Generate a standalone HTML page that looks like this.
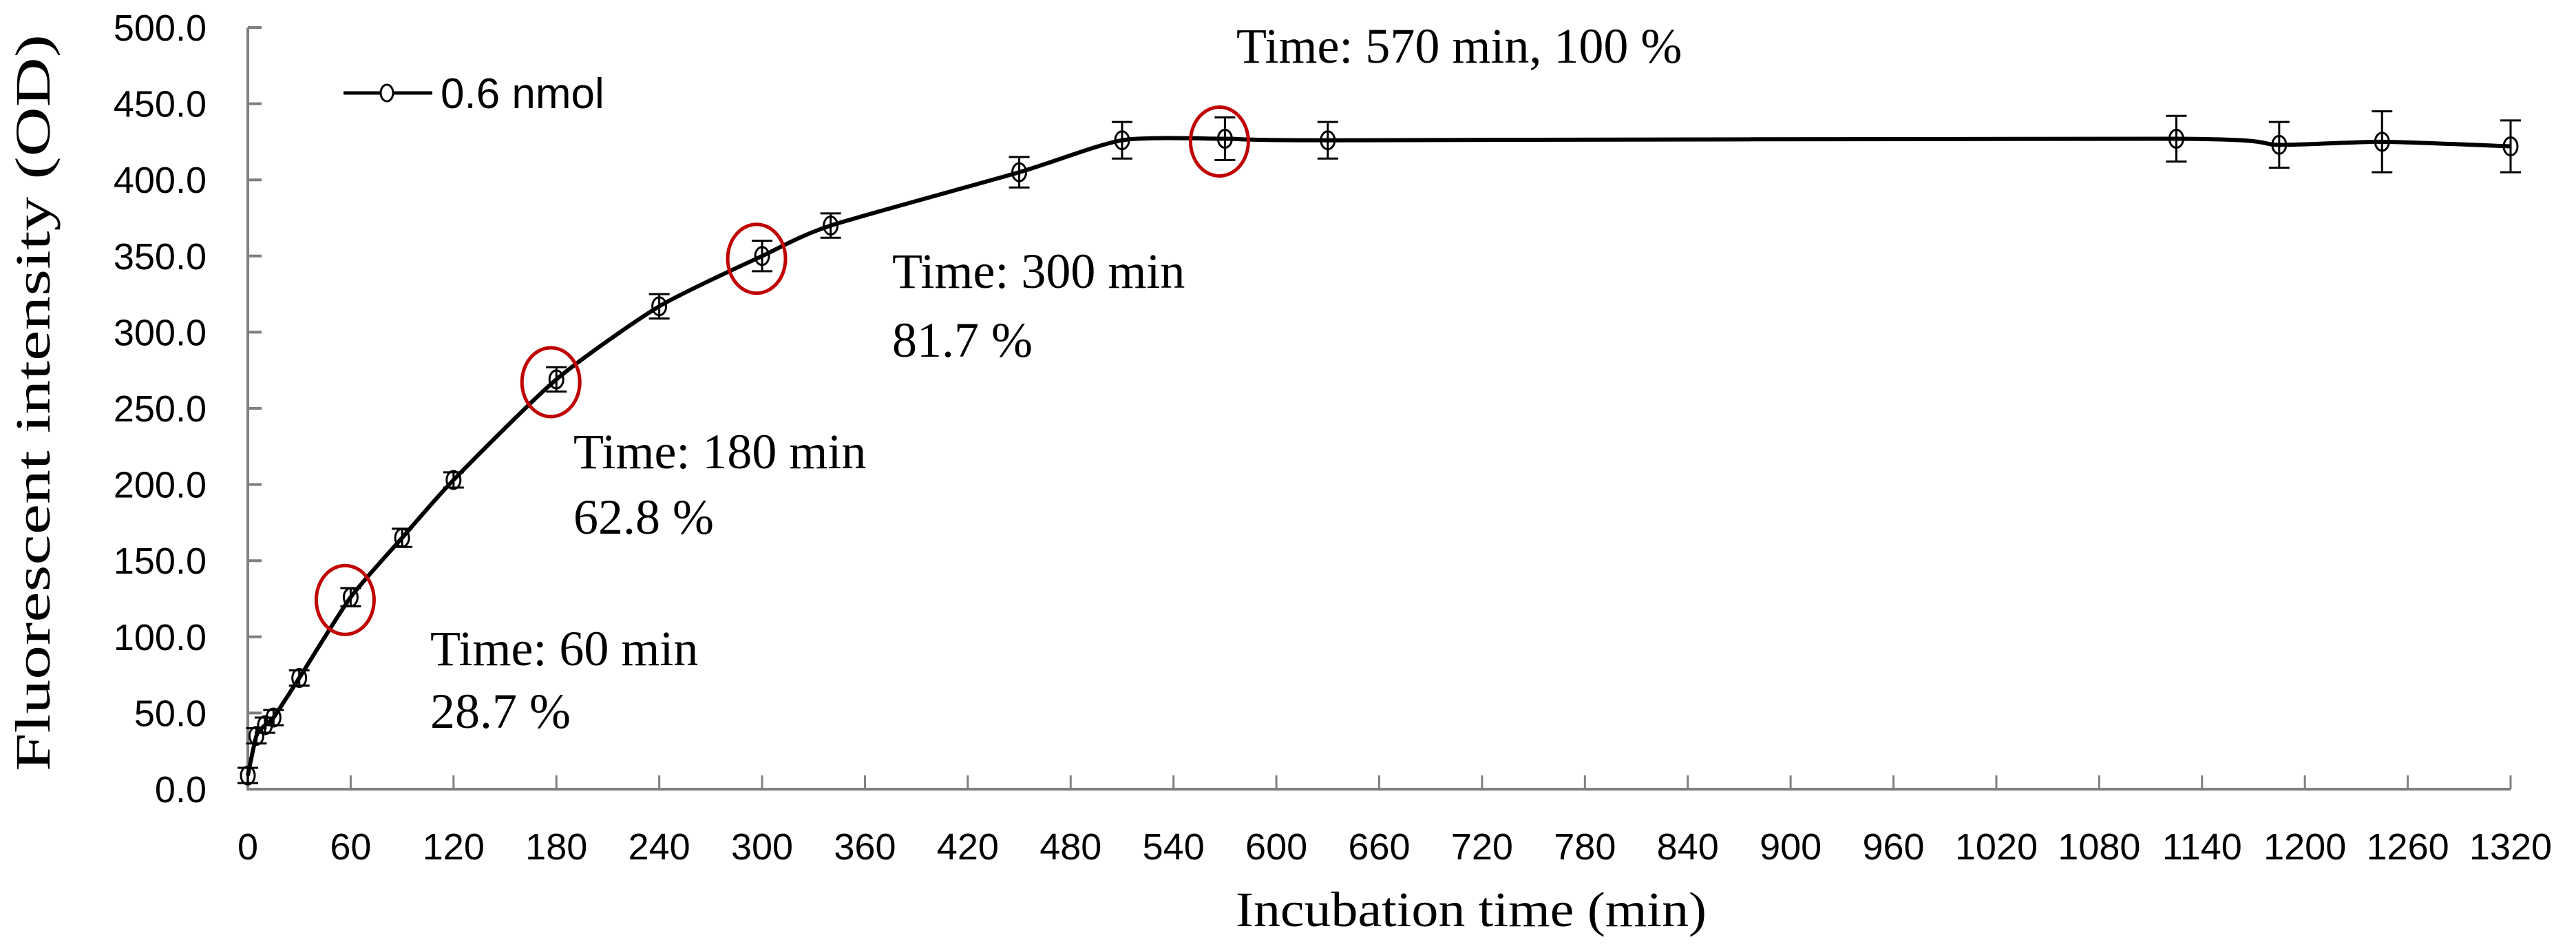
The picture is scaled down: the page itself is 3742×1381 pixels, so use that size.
<!DOCTYPE html>
<html><head><meta charset="utf-8"><style>
html,body{margin:0;padding:0;background:#fff;}
svg{display:block;}
.tick{font-family:"Liberation Sans",sans-serif;font-size:54px;fill:#000;}
.ann{font-family:"Liberation Serif",serif;font-size:72px;fill:#000;}
</style></head><body>
<svg id="chart" width="3742" height="1381" viewBox="0 0 3742 1381" xmlns="http://www.w3.org/2000/svg">
<g id="axes"></g>
<g id="series"></g>
<g id="annots"></g>
<text class="ann" transform="translate(72,585) rotate(-90)" text-anchor="middle" textLength="1070" lengthAdjust="spacingAndGlyphs">Fluorescent intensity (OD)</text>
<text class="ann" x="2137" y="1345" text-anchor="middle" textLength="684" lengthAdjust="spacingAndGlyphs">Incubation time (min)</text>
<g>
<line x1="499" y1="135" x2="628" y2="135" stroke="#000" stroke-width="5"/>
<ellipse cx="562" cy="135" rx="9" ry="12" fill="#fff" stroke="#000" stroke-width="3"/>
<text x="640" y="157" font-family="Liberation Sans, sans-serif" font-size="62">0.6 nmol</text>
</g>
</svg>
<script>
const times = [0,5,10,15,30,60,90,120,180,240,300,340,450,510,570,630,1125,1185,1245,1320];
const values = [9,35,42,47,73,126,165,203,269,317,350,370,405,426,427,426,427,423,425,422];
const errors = [5,5,5,5,5,6,6,5,8,8,10,8,10,12,14,12,15,15,20,17];
const xTicks = [0,60,120,180,240,300,360,420,480,540,600,660,720,780,840,900,960,1020,1080,1140,1200,1260,1320];
const yTicks = [0,50,100,150,200,250,300,350,400,450,500];
const highlights = [60,180,300,570];
const NS="http://www.w3.org/2000/svg";
const X0=360, X1=3647, Y0=1146, Y1=40;
const xs=t=>X0+(t/1320)*(X1-X0);
const ys=v=>Y0-(v/500)*(Y0-Y1);
function mk(tag,attrs,parent){const e=document.createElementNS(NS,tag);for(const k in attrs)e.setAttribute(k,attrs[k]);parent.appendChild(e);return e;}
const axes=document.getElementById('axes');
const ax=mk('line',{x1:X0,y1:Y1,x2:X0,y2:Y0,stroke:'#7f7f7f','stroke-width':4},axes);


const axx=mk('line',{x1:X0-2,y1:Y0,x2:X1,y2:Y0,stroke:'#7f7f7f','stroke-width':4},axes);


yTicks.forEach(v=>{
  const l=mk('line',{x1:X0,y1:ys(v),x2:X0+20,y2:ys(v),stroke:'#7f7f7f','stroke-width':4},axes);
  
  
  const t=mk('text',{x:300,y:ys(v)+19,'text-anchor':'end',class:'tick'},axes);
  
  
  t.textContent=v.toFixed(1);
});
xTicks.forEach(v=>{
  const l=mk('line',{x1:xs(v),y1:Y0,x2:xs(v),y2:Y0-20,stroke:'#7f7f7f','stroke-width':3},axes);
  
  
  const t=mk('text',{x:xs(v),y:1248,'text-anchor':'middle',class:'tick'},axes);
  
  
  t.textContent=v;
});
const ser=document.getElementById('series');
const P=times.map((t,i)=>[xs(t),ys(values[i])]);
let d='M'+P[0][0]+','+P[0][1];
for(let i=0;i<P.length-1;i++){
  const p0=P[Math.max(0,i-1)],p1=P[i],p2=P[i+1],p3=P[Math.min(P.length-1,i+2)];
  const k=1/9;
  d+=' C'+(p1[0]+(p2[0]-p0[0])*k)+','+(p1[1]+(p2[1]-p0[1])*k)+' '+(p2[0]-(p3[0]-p1[0])*k)+','+(p2[1]-(p3[1]-p1[1])*k)+' '+p2[0]+','+p2[1];
}
const line=mk('path',{d:d,fill:'none',stroke:'#000','stroke-width':6},ser);


times.forEach((t,i)=>{
  const x=xs(t),y=ys(values[i]),e=errors[i]*(Y0-Y1)/500;
  const g=mk('g',{},ser);
  
  
  mk('line',{x1:x,y1:y-e,x2:x,y2:y+e,stroke:'#000','stroke-width':3},g);
  mk('line',{x1:x-15,y1:y-e,x2:x+15,y2:y-e,stroke:'#000','stroke-width':3},g);
  mk('line',{x1:x-15,y1:y+e,x2:x+15,y2:y+e,stroke:'#000','stroke-width':3},g);
  mk('ellipse',{cx:x,cy:y,rx:10,ry:13,fill:'none',stroke:'#000','stroke-width':3},g);
});
const an=document.getElementById('annots');
highlights.forEach(t=>{
  const i=times.indexOf(t);
  const c=mk('ellipse',{cx:xs(t)-8,cy:ys(values[i])+4,rx:42,ry:50,fill:'none',stroke:'#c00000','stroke-width':5},an);
  
  
});
const labels=[
  ["Time: 60 min",625,966],["28.7 %",625,1057],
  ["Time: 180 min",833,680],["62.8 %",833,775],
  ["Time: 300 min",1296,418],["81.7 %",1296,518],
  ["Time: 570 min, 100 %",1796,91]
];
labels.forEach(l=>{
  const t=mk('text',{x:l[1],y:l[2],class:'ann'},an);
  
  
  t.textContent=l[0];
});
</script>
</body></html>
